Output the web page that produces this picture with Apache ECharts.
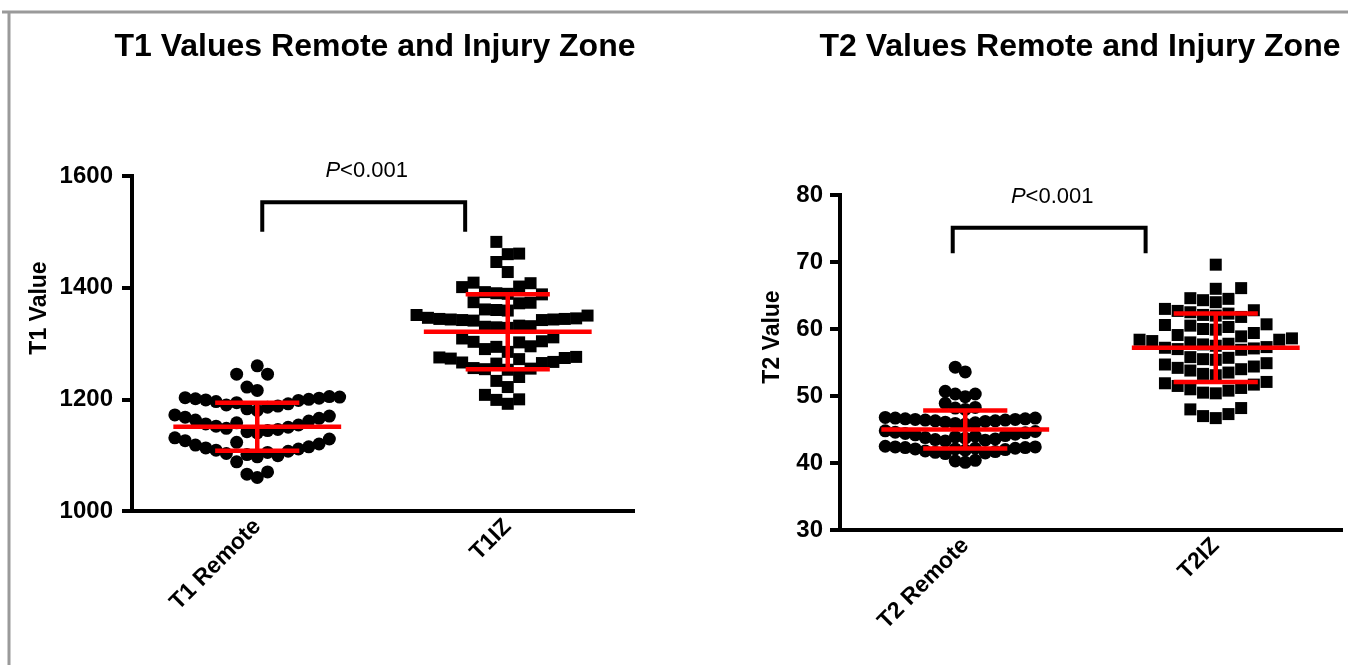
<!DOCTYPE html>
<html>
<head>
<meta charset="utf-8">
<script src="https://cdn.jsdelivr.net/npm/echarts@6/dist/echarts.min.js"></script>
<style>html,body{margin:0;padding:0;background:#fff;}#c{width:1348px;height:665px;}</style>
</head>
<body>
<div id="c"></div>
<script>
// ---------------- data ----------------
const titleT1 = 'T1 Values Remote and Injury Zone';
const titleT2 = 'T2 Values Remote and Injury Zone';
const yNameT1 = 'T1 Value';
const yNameT2 = 'T2 Value';
const categoriesT1 = ['T1 Remote', 'T1IZ'];
const categoriesT2 = ['T2 Remote', 'T2IZ'];
const ticksT1 = [1000, 1200, 1400, 1600];
const ticksT2 = [30, 40, 50, 60, 70, 80];
const pText = 'P<0.001';

const t1Remote = [1060, 1066, 1070, 1088,
  1097, 1099, 1101, 1103, 1105, 1107, 1109, 1111, 1113, 1115, 1118, 1120, 1123, 1126, 1129, 1131,
  1140, 1142, 1144, 1146, 1148, 1150, 1152, 1154, 1156, 1158, 1161, 1163, 1166, 1168, 1170, 1172,
  1180, 1183, 1186, 1188, 1190, 1192, 1194, 1196, 1198, 1199, 1200, 1201, 1202, 1203, 1204, 1205,
  1216, 1222, 1245, 1245, 1260];
const t1IZ = [1192, 1199, 1200, 1208, 1222, 1233, 1240, 1253, 1254, 1255, 1256, 1264, 1265, 1266, 1267,
  1272, 1273, 1274, 1275, 1276, 1285, 1290, 1294, 1295, 1302, 1303, 1304, 1309, 1311,
  1328, 1329, 1330, 1331, 1332, 1341, 1342, 1342, 1343, 1343, 1344, 1344, 1345, 1346,
  1350, 1351, 1359, 1360, 1361, 1372, 1373, 1374, 1388, 1389, 1390, 1392, 1401, 1402,
  1408, 1409, 1428, 1446, 1460, 1461, 1482];
const t2Remote = [40.1, 40.3, 40.4,
  41.4, 41.5, 41.6, 41.7, 41.8, 41.9, 42.0, 42.1, 42.1, 42.2, 42.2, 42.3, 42.3, 42.4, 42.4, 42.5,
  43.3, 43.4, 43.5, 43.6, 43.7, 43.8, 43.9, 44.0, 44.1, 44.2, 44.3, 44.4, 44.5, 44.6, 44.7, 44.8,
  45.8, 45.9, 46.0, 46.1, 46.2, 46.3, 46.3, 46.4, 46.4, 46.5, 46.5, 46.6, 46.6, 46.7, 46.7, 46.8,
  48.0, 48.2, 48.3, 48.9, 49.9, 50.3, 50.3, 50.7, 53.6, 54.3];
const t2IZ = [46.7, 47.0, 47.3, 48.0, 48.2,
  50.4, 50.5, 50.8, 51.0, 51.2, 51.5, 51.7, 51.9, 52.1,
  53.1, 53.3, 53.5, 53.8, 54.0, 54.2, 54.4, 54.7, 54.9,
  55.4, 55.5, 55.7, 55.8,
  56.9, 57.0, 57.1, 57.2, 57.3, 57.5, 57.7, 57.8, 58.0, 58.2, 58.4,
  58.4, 58.6, 58.9, 59.1, 59.4,
  59.9, 60.0, 60.3, 60.5, 60.6, 60.7,
  61.8, 62.0, 62.1, 62.3, 62.5, 62.7, 62.8, 63.0,
  64.0, 64.3, 64.5, 64.6,
  66.0, 66.1,
  69.6];
// mean and SD per category
const meanT1 = [1151, 1321];
const sdT1 = [43, 67];
const meanT2 = [45.0, 57.2];
const sdT2 = [2.85, 5.1];

// ---------------- layout ----------------
const FONT = '"Liberation Sans", Arial, Helvetica, sans-serif';
const G1 = { left: 132, top: 176, width: 501, height: 335 };
const G2 = { left: 840, top: 195, width: 501, height: 335 };

// Prism-like column scatter: points sorted, each put into the nearest free horizontal slot
function swarm(values, cat, grid, yMin, yMax, slotPx, gapPx) {
  const pxPerX = grid.width / 2;
  const pxPerY = grid.height / (yMax - yMin);
  const gapU = gapPx / pxPerY;
  const sorted = values.slice().sort((a, b) => a - b);
  const last = {};
  const out = [];
  sorted.forEach(v => {
    for (let i = 0; ; i++) {
      const k = i === 0 ? 0 : (i % 2 === 1 ? -Math.ceil(i / 2) : Math.ceil(i / 2));
      if (last[k] === undefined || v - last[k] >= gapU - 1e-9) {
        last[k] = v;
        out.push([cat + k * slotPx / pxPerX, v]);
        break;
      }
    }
  });
  return out;
}

function errRender(params, api) {
  const x = api.value(0), m = api.value(1), sd = api.value(2);
  const c = api.coord([x, m]);
  const t = api.coord([x, m + sd]);
  const b = api.coord([x, m - sd]);
  const half = api.size([0.335, 0])[0];
  const cap = api.size([0.168, 0])[0];
  const st = { stroke: '#ff0000', lineWidth: 4.5 };
  return {
    type: 'group',
    children: [
      { type: 'line', shape: { x1: t[0], y1: t[1], x2: b[0], y2: b[1] }, style: st },
      { type: 'line', shape: { x1: c[0] - half, y1: c[1], x2: c[0] + half, y2: c[1] }, style: st },
      { type: 'line', shape: { x1: t[0] - cap, y1: t[1], x2: t[0] + cap, y2: t[1] }, style: st },
      { type: 'line', shape: { x1: b[0] - cap, y1: b[1], x2: b[0] + cap, y2: b[1] }, style: st }
    ]
  };
}

function bracketRender(params, api) {
  const a = api.coord([api.value(0), api.value(3)]);
  const b = api.coord([api.value(0), api.value(2)]);
  const c = api.coord([api.value(1), api.value(2)]);
  const d = api.coord([api.value(1), api.value(3)]);
  return {
    type: 'group',
    children: [
      { type: 'polyline', shape: { points: [a, b, c, d] }, style: { stroke: '#000', lineWidth: 4, fill: null } },
      { type: 'text', x: (b[0] + c[0]) / 2 + 3, y: b[1] - 31,
        style: { text: '{i|P}<0.001', fill: '#000', fontSize: 22, fontFamily: FONT, align: 'center', verticalAlign: 'middle',
          rich: { i: { fontStyle: 'italic', fontSize: 22, fontFamily: FONT, fill: '#000' } } } }
    ]
  };
}

function catAxis(gi, cats) {
  return {
    type: 'category', gridIndex: gi, data: cats,
    axisLine: { onZero: false, lineStyle: { color: '#000', width: 4, cap: 'square' } },
    axisTick: { alignWithLabel: true, length: 8, lineStyle: { color: '#000', width: 4 } },
    axisLabel: { rotate: 45, margin: 12, color: '#000', fontWeight: 'bold', fontSize: 23, fontFamily: FONT },
    splitLine: { show: false }
  };
}
function valAxis(gi, ticks, margin) {
  return {
    type: 'value', gridIndex: gi, min: ticks[0], max: ticks[ticks.length - 1], interval: ticks[1] - ticks[0],
    axisLine: { show: true, onZero: false, lineStyle: { color: '#000', width: 4, cap: 'square' } },
    axisTick: { show: true, length: 10, lineStyle: { color: '#000', width: 4 } },
    axisLabel: { margin: margin, color: '#000', fontWeight: 'bold', fontSize: 24, fontFamily: FONT,
      formatter: v => String(v) },
    splitLine: { show: false }
  };
}
function hiddenX(gi) {
  return { type: 'value', gridIndex: gi, min: -0.5, max: 1.5, show: false, axisLine: { onZero: false } };
}

const y1Min = ticksT1[0], y1Max = ticksT1[ticksT1.length - 1];
const y2Min = ticksT2[0], y2Max = ticksT2[ticksT2.length - 1];
const dot = { color: '#000', opacity: 1 };

const option = {
  animation: false,
  backgroundColor: '#fff',
  grid: [
    Object.assign({}, G1, { containLabel: false }),
    Object.assign({}, G2, { containLabel: false })
  ],
  xAxis: [catAxis(0, categoriesT1), hiddenX(0), catAxis(1, categoriesT2), hiddenX(1)],
  yAxis: [valAxis(0, ticksT1, 19), valAxis(1, ticksT2, 17)],
  graphic: [
    { type: 'line', shape: { x1: 2, y1: 12, x2: 1348, y2: 12 }, style: { stroke: '#9a9a9a', lineWidth: 3 } },
    { type: 'line', shape: { x1: 9, y1: 12, x2: 9, y2: 665 }, style: { stroke: '#9a9a9a', lineWidth: 3 } },
    { type: 'text', x: 375, y: 47, style: { text: titleT1, fill: '#000', font: 'bold 32px ' + FONT, align: 'center', verticalAlign: 'middle' } },
    { type: 'text', x: 1080, y: 47, style: { text: titleT2, fill: '#000', font: 'bold 32px ' + FONT, align: 'center', verticalAlign: 'middle' } },
    { type: 'text', x: 40, y: 308, rotation: Math.PI / 2, style: { text: yNameT1, fill: '#000', font: 'bold 23px ' + FONT, align: 'center', verticalAlign: 'middle' } },
    { type: 'text', x: 773, y: 337, rotation: Math.PI / 2, style: { text: yNameT2, fill: '#000', font: 'bold 23px ' + FONT, align: 'center', verticalAlign: 'middle' } }
  ],
  series: [
    { type: 'scatter', xAxisIndex: 1, yAxisIndex: 0, symbol: 'circle', symbolSize: 13, itemStyle: dot,
      data: swarm(t1Remote, 0, G1, y1Min, y1Max, 10.3, 19.5), z: 2 },
    { type: 'scatter', xAxisIndex: 1, yAxisIndex: 0, symbol: 'rect', symbolSize: 12, itemStyle: dot,
      data: swarm(t1IZ, 1, G1, y1Min, y1Max, 11.4, 16.5), z: 2 },
    { type: 'scatter', xAxisIndex: 3, yAxisIndex: 1, symbol: 'circle', symbolSize: 13, itemStyle: dot,
      data: swarm(t2Remote, 0, G2, y2Min, y2Max, 10, 12), z: 2 },
    { type: 'scatter', xAxisIndex: 3, yAxisIndex: 1, symbol: 'rect', symbolSize: 12, itemStyle: dot,
      data: swarm(t2IZ, 1, G2, y2Min, y2Max, 12.7, 13.4), z: 2 },
    { type: 'custom', xAxisIndex: 1, yAxisIndex: 0, renderItem: errRender, z: 5, clip: false,
      encode: { x: 0, y: 1 }, data: meanT1.map((m, i) => [i, m, sdT1[i]]) },
    { type: 'custom', xAxisIndex: 3, yAxisIndex: 1, renderItem: errRender, z: 5, clip: false,
      encode: { x: 0, y: 1 }, data: meanT2.map((m, i) => [i, m, sdT2[i]]) },
    { type: 'custom', xAxisIndex: 1, yAxisIndex: 0, renderItem: bracketRender, z: 5, clip: false,
      encode: { x: [0, 1], y: [2, 3] }, data: [[0.02, 0.83, 1553, 1500]] },
    { type: 'custom', xAxisIndex: 3, yAxisIndex: 1, renderItem: bracketRender, z: 5, clip: false,
      encode: { x: [0, 1], y: [2, 3] }, data: [[-0.05, 0.72, 75.1, 71.3]] }
  ]
};

const chart = echarts.init(document.getElementById('c'), null, { renderer: 'canvas' });
chart.setOption(option);
</script>
</body>
</html>
